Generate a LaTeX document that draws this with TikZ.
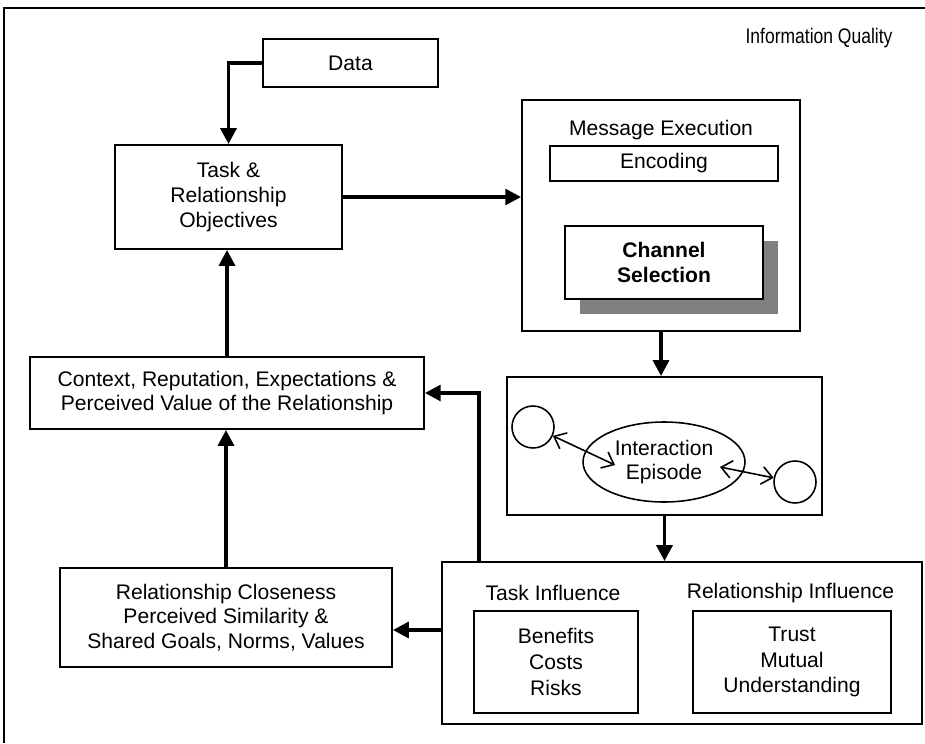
\documentclass[tikz,border=0pt]{standalone}
\usepackage{fontspec}
\setmainfont{Liberation Sans}
\usetikzlibrary{arrows.meta,calc,positioning,shapes.geometric,shadows}

\begin{document}
\begin{tikzpicture}[x=0.02cm,y=-0.02cm,
  font=\fontsize{12}{14}\selectfont,
  box/.style={draw,line width=1.1pt,align=center,inner sep=0pt},
  arr/.style={line width=2pt,-{Triangle[length=9pt,width=9pt]}},
  dbl/.style={line width=0.9pt,{Straight Barb[length=6pt,width=10pt]}-{Straight Barb[length=6pt,width=10pt]}}]
  \useasboundingbox (0,0) rectangle (925,743);

  % Frame
  \draw[line width=1.4pt] (4,743) -- (4,8) -- (925,8);
  \node (iq) at (819,38) {\scalebox{0.83}[1]{Information Quality}};

  % Left column
  \node[box,minimum width=3.5cm,minimum height=0.96cm] (data) at (350.5,63) {Data};
  \node[box,minimum width=4.54cm,minimum height=2.08cm] (task) at (228.5,197) {Task \&\\Relationship\\Objectives};
  \node[box,minimum width=7.88cm,minimum height=1.44cm] (ctx) at (227,393) {Context, Reputation, Expectations \&\\Perceived Value of the Relationship};
  \node[box,minimum width=6.64cm,minimum height=1.98cm] (rcl) at (226,617.5) {Relationship Closeness\\Perceived Similarity \&\\Shared Goals, Norms, Values};

  % Message execution
  \node[box,minimum width=5.56cm,minimum height=4.62cm] (me) at (661,215.5) {};
  \node (metitle) at (661,130) {Message Execution};
  \node[box,minimum width=4.56cm,minimum height=0.7cm] (enc) at (664,163.5) {Encoding};
  \node[box,fill=white,font=\fontsize{12}{14}\selectfont\bfseries,minimum width=3.96cm,minimum height=1.46cm,
    drop shadow={shadow xshift=0.3cm,shadow yshift=-0.3cm,fill=black!50,opacity=1}] (chan) at (664,262.5) {Channel\\Selection};

  % Interaction episode
  \node[box,minimum width=6.3cm,minimum height=2.76cm] (inter) at (664.5,446) {};
  \node[draw,ellipse,line width=0.9pt,minimum width=3.24cm,minimum height=1.6cm,inner sep=0pt,align=center] (ep) at (664,462) {Interaction\\Episode};
  \node[draw,circle,line width=0.9pt,minimum size=0.84cm,inner sep=0pt] (lc) at (533,427) {};
  \node[draw,circle,line width=0.9pt,minimum size=0.84cm,inner sep=0pt] (rc) at (795,482) {};
  \coordinate (epl) at (615,465);
  \coordinate (epr) at (720,467);
  \draw[dbl] (lc.-24) -- (epl);
  \draw[dbl] (epr) -- (rc.169);

  % Influences
  \node[box,minimum width=9.6cm,minimum height=3.24cm] (infl) at (682,643) {};
  \node (ti) at (553,593) {Task Influence};
  \node (ri) at (790.5,593) {Relationship Influence};
  \node[box,font=\fontsize{12}{14.6}\selectfont,minimum width=3.28cm,minimum height=2.04cm] (tb) at (556,662) {Benefits\\Costs\\Risks};
  \node[box,font=\fontsize{12}{14.6}\selectfont,minimum width=3.96cm,minimum height=2.04cm] (rb) at (792,662) {Trust\\Mutual\\Understanding};

  % Arrows
  \draw[arr] (data.west) -| (task.north);
  \draw[arr] (task.east) -- (task.east -| me.west);
  \draw[arr] (me.south) -- (me.south |- inter.north);
  \draw[arr] (inter.south) -- (inter.south |- infl.north);
  \draw[arr] (ctx.north) -- (ctx.north |- task.south);
  \draw[arr] (rcl.north) -- (rcl.north |- ctx.south);
  \draw[arr] ([xshift=0.76cm]infl.north west) |- (ctx.east);
  \coordinate (rcin) at ([yshift=-0.25cm]rcl.east);
  \draw[arr] (rcin -| infl.west) -- (rcin);
\end{tikzpicture}
\end{document}
